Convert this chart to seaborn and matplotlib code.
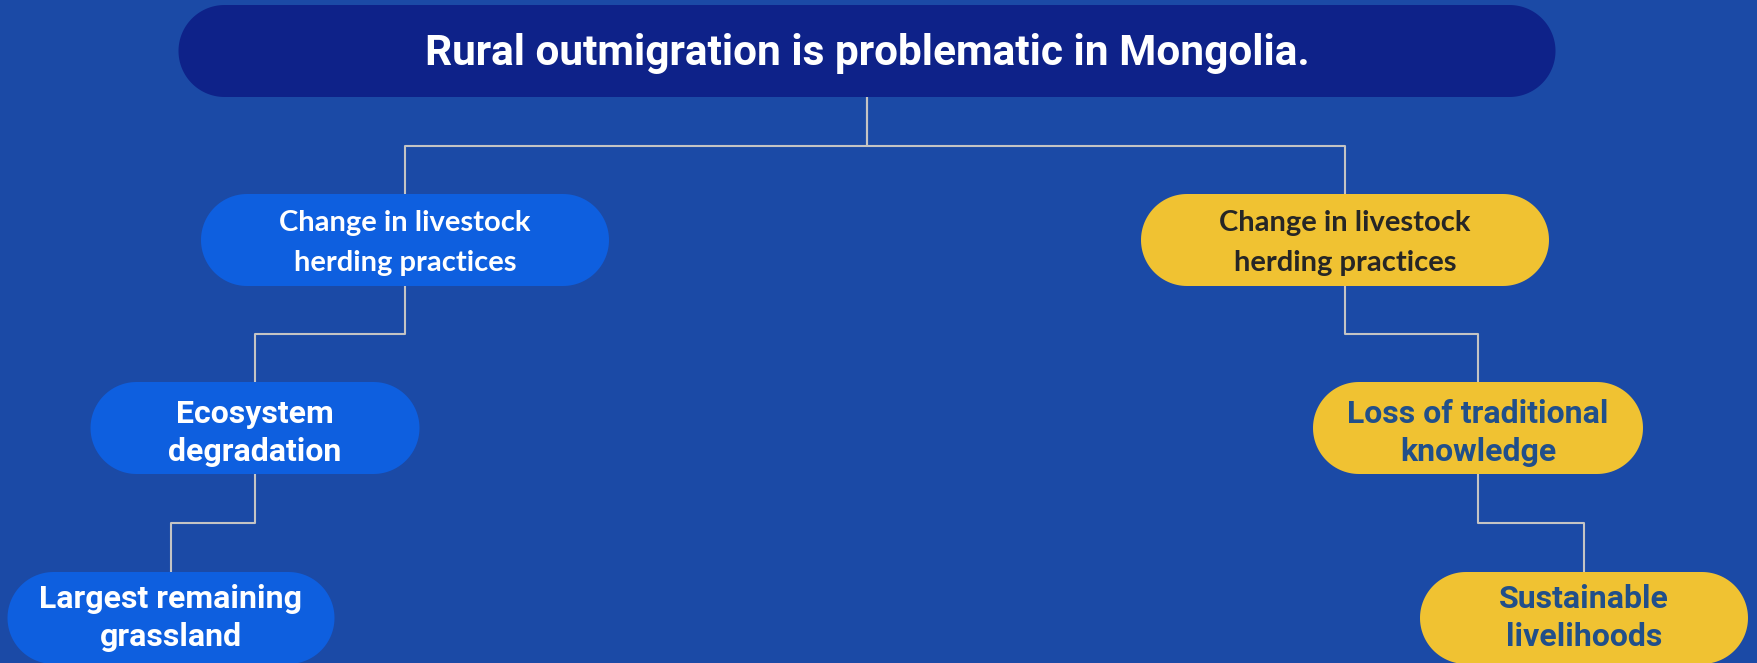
import numpy as np
import pandas as pd
import matplotlib.pyplot as plt
import seaborn as sns
from matplotlib.patches import Polygon

# Tree content
labels = [
    "Rural outmigration is problematic in Mongolia.",
    "Change in livestock\nherding practices",
    "Change in livestock\nherding practices",
    "Ecosystem\ndegradation",
    "Loss of traditional\nknowledge",
    "Largest remaining\ngrassland",
    "Sustainable\nlivelihoods",
]
parents = [-1, 0, 0, 1, 2, 3, 4]
branch = ["root", "blue", "yellow", "blue", "yellow", "blue", "yellow"]

# Layout (pixel space of the 1758x663 canvas, measured from the top)
W, H = 1758, 663
node_x = [867, 405, 1345, 255, 1478, 171, 1584]
node_top = [51, 240, 240, 428, 428, 618, 618]
node_w = [1377, 408, 408, 329, 330, 327, 328]
node_h = 92
node_y = [H - v for v in node_top]

bg = "#1B4AA6"
fills = {"root": "#0E2289", "blue": "#0E5FDF", "yellow": "#F0C232"}
text_colors = ["white", "white", "#262626", "white", "#214F8A", "white", "#214F8A"]
fonts = ["Roboto", "Lato", "Lato", "Roboto", "Roboto", "Roboto", "Roboto"]
sizes = [30.5, 21, 21, 23, 23, 23, 23]
spacing = [1.2, 1.65, 1.65, 1.33, 1.33, 1.33, 1.33]
text_shift = [-3, -3, -3, -5, -5, 0, 0]


def pill(cx, cy, w, h):
    r = h / 2
    t = np.linspace(-np.pi / 2, np.pi / 2, 60)
    right = np.column_stack([cx + w / 2 - r + r * np.cos(t), cy + r * np.sin(t)])
    left = np.column_stack([cx - w / 2 + r - r * np.cos(t), cy - r * np.sin(t)])
    return np.vstack([right, left])


sns.set_theme(style="white")

fig = plt.figure(figsize=(17.58, 6.63), dpi=100, facecolor=bg)
ax = fig.add_axes([0, 0, 1, 1])

# Elbow connectors
rows = []
for i, p in enumerate(parents):
    if p < 0:
        continue
    y0 = node_y[p] - node_h / 2
    y1 = node_y[i] + node_h / 2
    ym = (y0 + y1) / 2
    pts = [(node_x[p], y0), (node_x[p], ym), (node_x[i], ym), (node_x[i], y1)]
    for k, (x, y) in enumerate(pts):
        rows.append({"edge": i, "order": k, "x": x, "y": y})
edges = pd.DataFrame(rows)
sns.lineplot(data=edges, x="x", y="y", units="edge", estimator=None, sort=False,
             color="#C4C4C4", linewidth=1.5, ax=ax, legend=False)

# Pill-shaped nodes
for i, lab in enumerate(labels):
    ax.add_patch(Polygon(pill(node_x[i], node_y[i], node_w[i], node_h), closed=True,
                         facecolor=fills[branch[i]], edgecolor="none", zorder=3))
    ax.text(node_x[i], node_y[i] + text_shift[i], lab, ha="center", va="center",
            fontsize=sizes[i], fontweight="bold", family=fonts[i],
            color=text_colors[i], linespacing=spacing[i], zorder=4)

ax.set_facecolor(bg)
ax.set_xlim(0, W)
ax.set_ylim(0, H)
ax.axis("off")

fig.savefig("out.png", dpi=100, facecolor=bg)
